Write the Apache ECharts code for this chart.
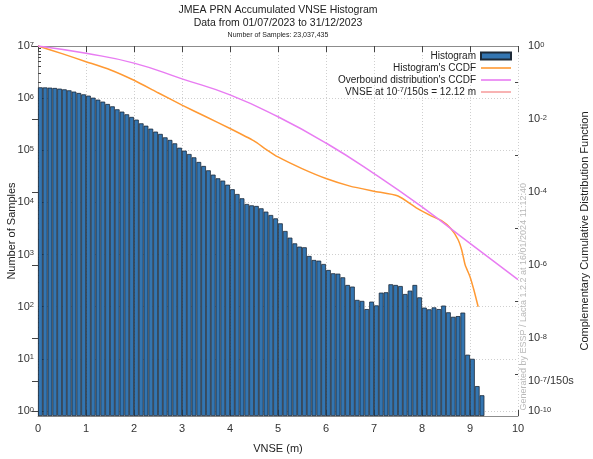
<!DOCTYPE html>
<html>
<head>
<meta charset="utf-8">
<script src="https://cdn.jsdelivr.net/npm/echarts@6/dist/echarts.min.js"></script>
<style>
html, body { margin: 0; padding: 0; background: #fff; }
#chart { width: 593px; height: 459px; }
</style>
</head>
<body>
<div id="chart"></div>
<script>
// histogram: bins of 0.1 m starting at 0 m
const binWidth = 0.1;
const sampleCounts = [
	1614000, 1605000, 1589000, 1567000, 1521000, 1476000, 1413000, 1334000, 1256000, 1183000,
	1117000, 1021000, 935000, 857000, 773000, 697000, 611000, 551000, 490000, 436000,
	387000, 329000, 296000, 260000, 228000, 206000, 177000, 158000, 136000, 112000,
	98400, 84900, 73300, 59700, 50000, 41300, 34100, 29000, 26200, 21900,
	17900, 14500, 12000, 9330, 8790, 8550, 7710, 6650, 5740, 4950,
	3970, 2830, 2110, 1640, 1420, 1380, 940, 787, 764, 659,
	506, 437, 430, 366, 261, 243, 135, 129, 90, 125,
	106, 186, 189, 269, 261, 249, 175, 203, 261, 151,
	96, 89, 97, 90, 105, 78, 64, 66, 77, 12,
	10, 3, 2
];

// histogram's CCDF
const ccdfX = [0, 0.5, 1.0, 1.5, 2.0, 2.5, 3.0, 3.5, 4.0, 4.5, 4.75, 5.0, 5.5, 6.0, 6.5, 7.0, 7.5, 7.9, 8.2, 8.4, 8.6, 8.75, 8.83, 8.9, 9.0, 9.08, 9.17];
const ccdfP = [1, 0.617, 0.372, 0.224, 0.115, 0.0525, 0.024, 0.0115, 0.0055, 0.00251, 0.00148, 0.000912, 0.000437, 0.000234, 0.000145, 0.000105, 7.76e-5, 3.55e-5, 2.19e-5, 1.66e-5, 1e-5, 5.0e-6, 2.5e-6, 1e-6, 4.8e-7, 2.1e-7, 7.2e-8];

// overbound distribution's CCDF
const overX = [0, 1, 2, 3, 4, 5, 6, 7, 8, 9, 10];
const overP = [1, 0.63, 0.34, 0.126, 0.0457, 0.0115, 0.0022, 3.2e-4, 3.9e-5, 3.9e-6, 4.0e-7];

const vnseBound = 12.12;          // m, outside the x range
const vnseRef = 1e-7 / 150;       // probability marker on the right axis

const leftTicks = [1, 1e1, 1e2, 1e3, 1e4, 1e5, 1e6, 1e7];
const rightTicks = [1, 1e-2, 1e-4, 1e-6, 1e-8, vnseRef, 1e-10];
const rightMinorTicks = [1e-1, 1e-3, 1e-5, 1e-7, 1e-9];

let leftMinorTicks = [];
for (let d = 0; d < 7; d++) {
	for (let k = 2; k < 10; k++) leftMinorTicks.push(k * Math.pow(10, d));
}

const FONT = 'Liberation Sans';
const LINE_ICON = 'path://M0,0H30V1.6H0Z';
const supRich = {
	s: { fontSize: 7.5, verticalAlign: 'top', fontFamily: FONT, color: '#333' }
};

function supLabel(v) {
	if (Math.abs(v - vnseRef) / vnseRef < 1e-3) return '10{s|-7}/150s';
	let e = Math.round(Math.log10(v));
	return '10{s|' + e + '}';
}

let chart = echarts.init(document.getElementById('chart'));

let option = {
	animation: false,
	backgroundColor: '#fff',
	textStyle: { fontFamily: FONT },
	title: [{
		text: 'JMEA PRN Accumulated VNSE Histogram',
		left: 278, top: 5, padding: 0, textAlign: 'center',
		textStyle: { fontSize: 10.5, fontWeight: 'normal', color: '#222', fontFamily: FONT }
	}, {
		text: 'Data from 01/07/2023 to 31/12/2023',
		left: 278, top: 18, padding: 0, textAlign: 'center',
		textStyle: { fontSize: 10.5, fontWeight: 'normal', color: '#222', fontFamily: FONT }
	}, {
		text: 'Number of Samples: 23,037,435',
		left: 278, top: 32, padding: 0, textAlign: 'center',
		textStyle: { fontSize: 7, fontWeight: 'normal', color: '#222', fontFamily: FONT }
	}],
	legend: {
		orient: 'vertical',
		right: 81, top: 50, padding: 0,
		align: 'right',
		itemWidth: 30, itemHeight: 7, itemGap: 0,
		textStyle: { fontSize: 10, lineHeight: 12, color: '#222', fontFamily: FONT, rich: supRich },
		formatter: function(name) {
			if (name.indexOf('VNSE') === 0) return 'VNSE at 10{s|-7}/150s = 12.12 m';
			return name;
		},
		data: [
			{ name: 'Histogram', icon: 'rect' },
			{ name: "Histogram's CCDF", icon: LINE_ICON },
			{ name: "Overbound distribution's CCDF", icon: LINE_ICON },
			{ name: 'VNSE at 10^-7/150s = 12.12 m', icon: LINE_ICON }
		]
	},
	grid: { left: 38, right: 75, top: 46, bottom: 43, outerBoundsMode: 'none', containLabel: false },
	xAxis: [{
		type: 'value', min: 0, max: 10, interval: 1, position: 'bottom',
		name: 'VNSE (m)', nameLocation: 'middle', nameGap: 27, nameMoveOverlap: false,
		nameTextStyle: { fontSize: 11, color: '#222' },
		axisLine: { show: true, lineStyle: { color: '#8c8c8c' } },
		axisTick: { inside: true, length: 6, lineStyle: { color: '#444' } },
		axisLabel: { fontSize: 11, color: '#333', margin: 7 },
		splitLine: { show: true, lineStyle: { type: [1, 2], color: '#cfcfcf' } }
	}, {
		type: 'value', min: 0, max: 10, interval: 1, position: 'top',
		axisLine: { show: true, lineStyle: { color: '#8c8c8c' } },
		axisTick: { inside: true, length: 6, lineStyle: { color: '#444' } },
		axisLabel: { show: false },
		splitLine: { show: false }
	}],
	yAxis: [{
		type: 'log', logBase: 10, min: 0.8, max: 1e7, position: 'left', startValue: 0.8,
		name: 'Number of Samples', nameLocation: 'middle', nameGap: 21, nameRotate: 90, nameMoveOverlap: false,
		nameTextStyle: { fontSize: 11, color: '#222' },
		axisLine: { show: true, lineStyle: { color: '#8c8c8c' } },
		axisTick: { inside: true, length: 6, customValues: leftTicks, lineStyle: { color: '#444' } },
		axisLabel: { customValues: leftTicks, formatter: supLabel, fontSize: 11, color: '#333', margin: 4, rich: supRich },
		splitLine: { show: true, lineStyle: { type: [1, 2], color: '#cfcfcf' } }
	}, {
		type: 'log', logBase: 10, min: 7.3e-11, max: 1, position: 'right',
		name: 'Complementary Cumulative Distribution Function', nameLocation: 'middle', nameGap: 61, nameRotate: 90, nameMoveOverlap: false,
		nameTextStyle: { fontSize: 11, color: '#222' },
		axisLine: { show: true, lineStyle: { color: '#8c8c8c' } },
		axisTick: { inside: true, length: 6, customValues: rightTicks, lineStyle: { color: '#444' } },
		axisLabel: { customValues: rightTicks, formatter: supLabel, fontSize: 11, color: '#333', margin: 10, rich: supRich },
		splitLine: { show: false }
	}, {
		type: 'log', logBase: 10, min: 0.8, max: 1e7, position: 'left',
		axisLine: { show: false },
		axisTick: { inside: true, length: 3, customValues: leftMinorTicks, lineStyle: { color: '#444' } },
		axisLabel: { show: false },
		splitLine: { show: false }
	}, {
		type: 'log', logBase: 10, min: 7.3e-11, max: 1, position: 'right',
		axisLine: { show: false },
		axisTick: { inside: true, length: 3, customValues: rightMinorTicks, lineStyle: { color: '#444' } },
		axisLabel: { show: false },
		splitLine: { show: false }
	}],
	series: [{
		name: 'Histogram',
		type: 'bar',
		xAxisIndex: 0, yAxisIndex: 0,
		barWidth: 4.8,
		itemStyle: { color: '#3375b1', borderColor: '#1d2a38', borderWidth: 0.8 },
		data: sampleCounts.map((c, i) => [(i + 0.5) * binWidth, c])
	}, {
		name: "Histogram's CCDF",
		type: 'line',
		xAxisIndex: 0, yAxisIndex: 1,
		symbol: 'none', smooth: 0.2,
		itemStyle: { color: '#ff9933' },
		lineStyle: { color: '#ff9933', width: 1.5 },
		data: ccdfX.map((x, i) => [x, ccdfP[i]])
	}, {
		name: "Overbound distribution's CCDF",
		type: 'line',
		xAxisIndex: 0, yAxisIndex: 1,
		symbol: 'none', smooth: true,
		itemStyle: { color: '#e87cf2' },
		lineStyle: { color: '#e87cf2', width: 1.5 },
		data: overX.map((x, i) => [x, overP[i]])
	}, {
		name: 'VNSE at 10^-7/150s = 12.12 m',
		type: 'line',
		xAxisIndex: 0, yAxisIndex: 1,
		symbol: 'none',
		itemStyle: { color: '#f7a1a1' },
		lineStyle: { color: '#f7a1a1', width: 1.5 },
		data: [[vnseBound, 7.3e-11], [vnseBound, 1]]
	}],
	graphic: [{
		type: 'text',
		left: 519, top: 183,
		rotation: Math.PI / 2,
		style: {
			text: 'Generated by ESSP / Lacta 1.2.2 at 16/01/2024 11:12:40',
			fontSize: 9, fill: '#b8b8b8', fontFamily: FONT
		}
	}]
};

chart.setOption(option);
</script>
</body>
</html>
